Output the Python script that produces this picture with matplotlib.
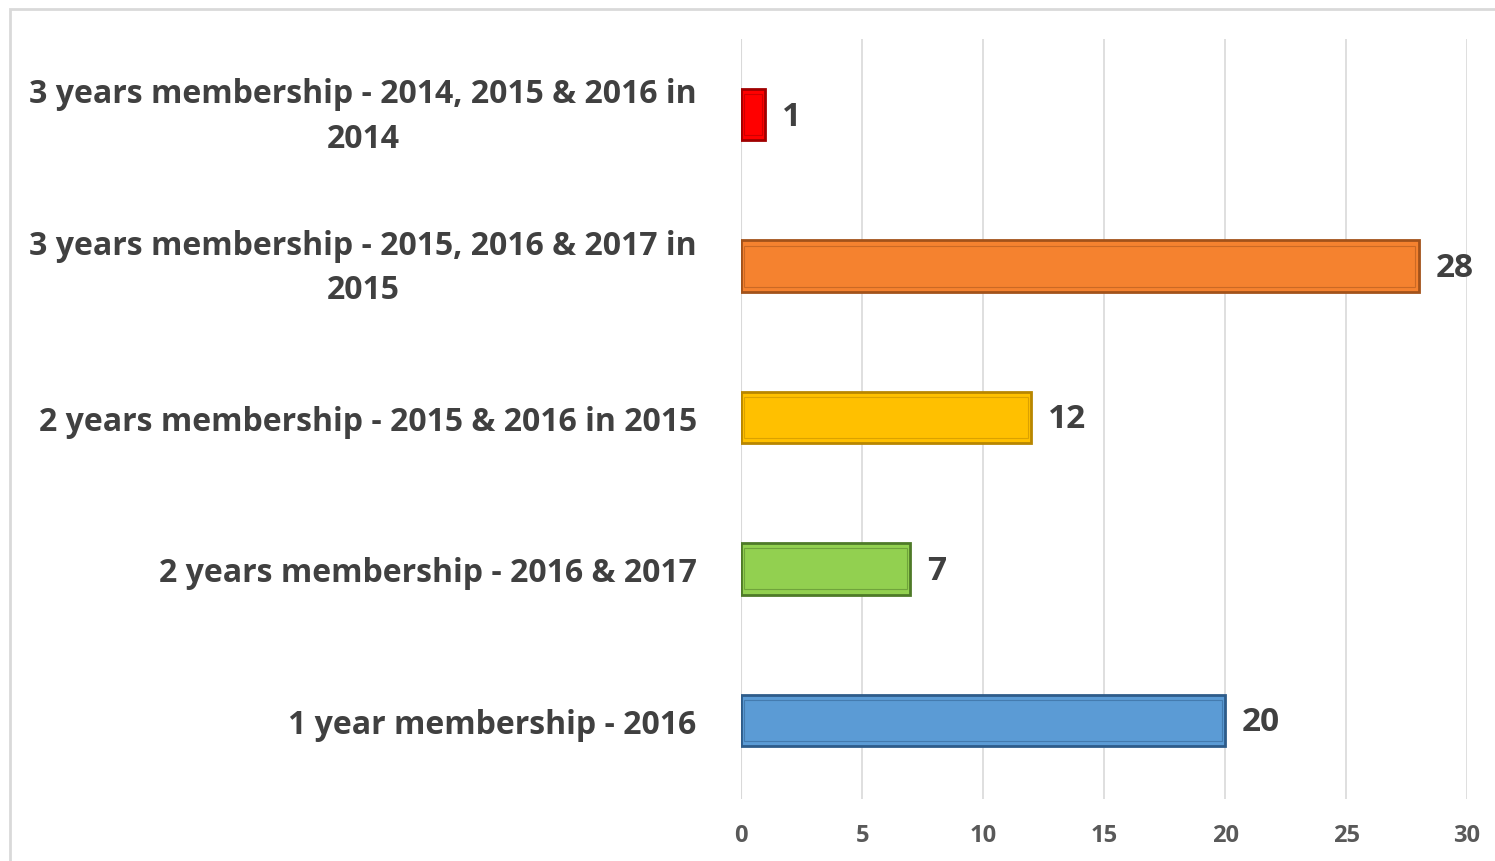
import matplotlib.pyplot as plt
from matplotlib.patches import Rectangle
from matplotlib.transforms import ScaledTranslation

### Data
categories = [
    '1 year membership - 2016',
    '2 years membership - 2016 & 2017',
    '2 years membership - 2015 & 2016 in 2015',
    '3 years membership - 2015, 2016 & 2017 in\n2015',
    '3 years membership - 2014, 2015 & 2016 in\n2014',
]
values = [20, 7, 12, 28, 1]
colors = ['#5B9BD5', '#92D050', '#FFC000', '#F5822F', '#FF0000']
edges = ['#2E5C8A', '#4E7A28', '#B88600', '#A2521A', '#A00000']
xticks = [0, 5, 10, 15, 20, 25, 30]

plt.rcParams['font.family'] = ['Open Sans', 'DejaVu Sans']

### Charting
fig = plt.figure(figsize=(14.95, 8.62), dpi=100)
ax = fig.add_axes([0.4957, 0.0719, 0.4856, 0.8817])

pos = list(range(len(values)))
ax.barh(pos, values, height=0.34, color=colors, edgecolor=edges, linewidth=2, zorder=3)
# faint inner bevel
ax.barh(pos, [v - 0.25 for v in values], left=0.12, height=0.27, color='none',
        edgecolor=edges, linewidth=0.8, alpha=0.5, zorder=4)

for y, v in zip(pos, values):
    ax.annotate(str(v), (v, y), xytext=(12, -1), textcoords='offset points',
                va='center', ha='left', fontsize=24, fontweight='bold', color='#404040')

ax.set_xlim(0, 30)
ax.set_ylim(-0.52, 4.5)
ax.set_xticks(xticks)
ax.set_yticks(pos)
ax.set_yticklabels(categories, fontsize=23, fontweight='bold', color='#404040',
                   multialignment='center', linespacing=1.45)
ax.tick_params(axis='y', length=0, pad=32)
ax.tick_params(axis='x', length=0, pad=17, labelsize=17, labelcolor='#595959')
for lab in ax.get_xticklabels():
    lab.set_fontweight('bold')
# nudge the two-line labels up a little so they sit on the bar centre
for lab in ax.get_yticklabels():
    if '\n' in lab.get_text():
        lab.set_transform(lab.get_transform() + ScaledTranslation(0, 6 / 72, fig.dpi_scale_trans))

ax.grid(axis='x', color='#D9D9D9', linewidth=1.2, zorder=0)
for s in ax.spines.values():
    s.set_visible(False)
ax.axvline(0, color='#D9D9D9', linewidth=1.5, zorder=1)

fig.patches.append(Rectangle((10 / 1495, -0.05), 1.2, 1 - 10 / 862 + 0.05,
                             transform=fig.transFigure, fill=False,
                             edgecolor='#D9D9D9', linewidth=2))

plt.savefig('out.png', dpi=100)
